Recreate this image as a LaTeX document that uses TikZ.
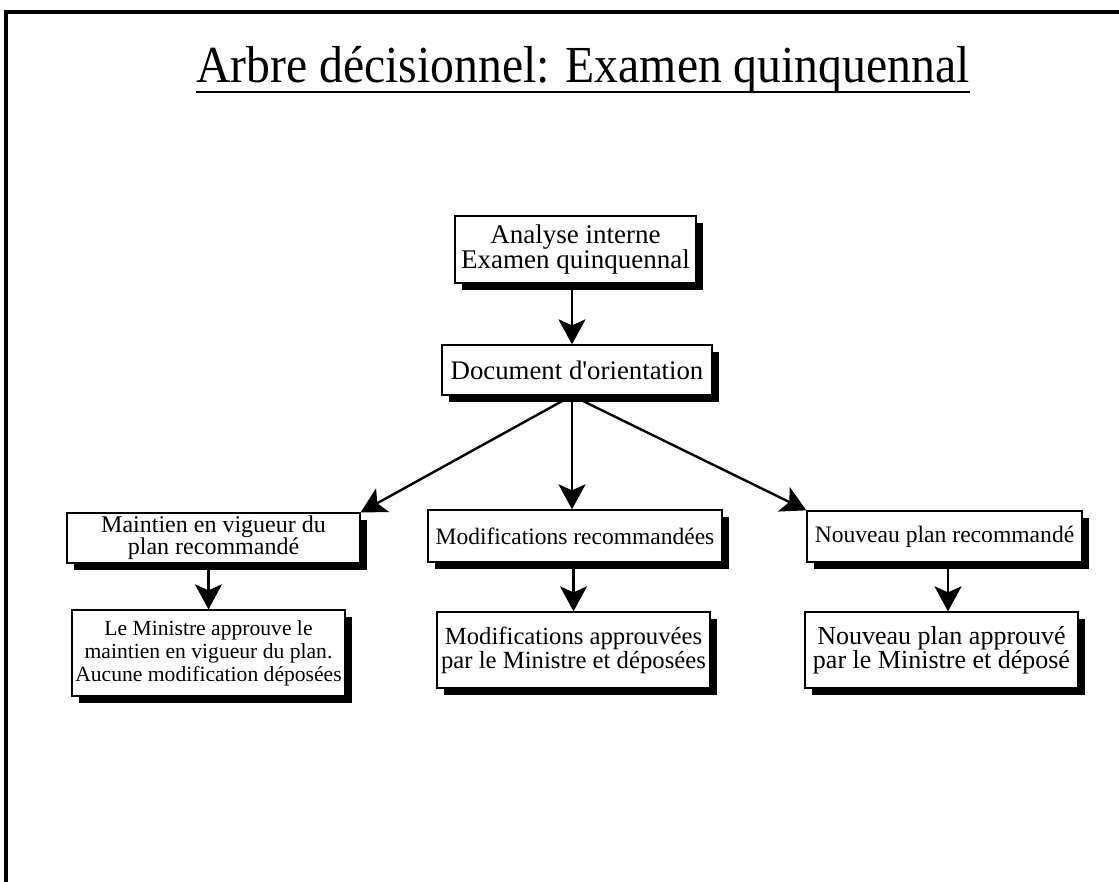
\documentclass[tikz,border=0pt]{standalone}
\usepackage{fontspec}
\setmainfont{Liberation Serif}
\usetikzlibrary{arrows.meta,shadows}
\begin{document}
\begin{tikzpicture}[x=1pt,y=-1pt,
  box/.style={draw=black, line width=1.3pt, fill=white, align=center, inner sep=0pt,
    drop shadow={shadow xshift=7pt, shadow yshift=-7pt, opacity=1, fill=black}},
  arr/.style={line width=2.4pt, -{Stealth[length=25pt,width=27pt,inset=6pt]}},
]
\useasboundingbox (0,0) rectangle (1119,882);
\fill[white] (0,0) rectangle (1119,882);
\draw[line width=4pt, line join=miter] (6,882) -- (6,12) -- (1119,12);

\node[inner sep=0pt, anchor=base, font=\fontsize{52}{60}\selectfont] (title) at (583,83) {\scalebox{0.917}[1]{Arbre décisionnel: Examen quinquennal}};
\draw[line width=2pt] ([yshift=-9pt]title.base west) -- ([yshift=-9pt]title.base east);

\node[box, font=\fontsize{27}{25}\selectfont, minimum width=241pt, minimum height=67pt] (top) at (575.5,249.5) {Analyse interne\\Examen quinquennal};
\node[box, font=\fontsize{26.8}{30}\selectfont, minimum width=270pt, minimum height=50pt] (doc) at (577,370) {Document d\textquotesingle orientation};

\node[box, font=\fontsize{24}{22}\selectfont, minimum width=293pt, minimum height=50pt] (L1) at (213.5,538) {Maintien en vigueur du\\plan recommandé};
\node[box, font=\fontsize{23.5}{26}\selectfont, minimum width=294pt, minimum height=52pt] (M1) at (575,536) {Modifications recommandées};
\node[box, font=\fontsize{23.6}{26}\selectfont, minimum width=275pt, minimum height=51pt] (R1) at (944.5,536.5) {Nouveau plan recommandé};

\node[box, font=\fontsize{21.6}{23}\selectfont, minimum width=273pt, minimum height=86pt] (L2) at (208.5,653) {Le Ministre approuve le\\maintien en vigueur du plan.\\Aucune modification déposées};
\node[box, font=\fontsize{24.7}{24}\selectfont, minimum width=273pt, minimum height=76pt] (M2) at (573.5,650) {Modifications approuvées\\par le Ministre et déposées};
\node[box, font=\fontsize{26}{24}\selectfont, minimum width=273pt, minimum height=76pt] (R2) at (941.5,650) {Nouveau plan approuvé\\par le Ministre et déposé};

\coordinate (hub) at ([xshift=-5pt]doc.south);
\coordinate (ta) at ([xshift=-3.5pt]top.south);
\coordinate (ra) at ([xshift=3.5pt]R1.south);
\draw[arr] (ta) -- (ta |- doc.north);
\draw[arr] (hub) -- (L1.north east);
\draw[arr] (hub) -- (hub |- M1.north);
\draw[arr] (hub) -- (R1.north west);
\draw[arr] (L2.north |- L1.south) -- (L2.north);
\draw[arr] (M2.north |- M1.south) -- (M2.north);
\draw[arr] (ra) -- (ra |- R2.north);
\end{tikzpicture}
\end{document}
